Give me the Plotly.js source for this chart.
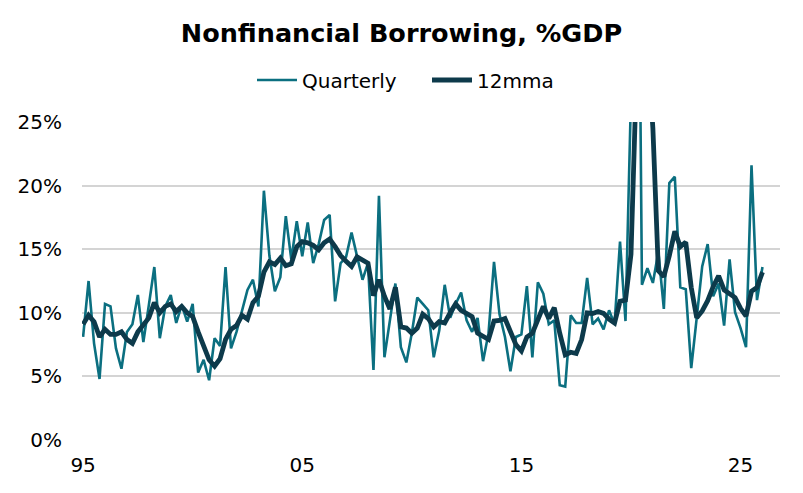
<!DOCTYPE html>
<html>
<head>
<meta charset="utf-8">
<script src="https://cdn.plot.ly/plotly-3.0.1.min.js"></script>
<style>
html,body{margin:0;padding:0;background:#fff;}
#chart{width:803px;height:493px;}
</style>
</head>
<body>
<div id="chart"></div>
<script>
// Quarterly observations starting 1995 Q1
const startYear = 1995;
const quarterly = [
  8.1, 12.5, 7.6, 4.8, 10.7, 10.5, 7.2, 5.6, 8.5, 9.1,
  11.4, 7.7, 10.6, 13.6, 8.0, 10.5, 11.4, 9.2, 10.6, 9.3,
  10.7, 5.3, 6.3, 4.7, 8.0, 7.4, 13.6, 7.2, 8.5, 10.2,
  11.8, 12.6, 10.5, 19.6, 14.5, 11.7, 12.8, 17.6, 14.2, 17.2,
  14.45, 17.1, 13.9, 15.4, 17.3, 17.7, 10.9, 13.9, 14.4, 16.3,
  14.45, 12.6, 13.9, 5.5, 19.2, 6.5, 9.4, 12.3, 7.3, 6.1,
  8.4, 11.2, 10.7, 10.2, 6.5, 8.6, 12.2, 9.6, 10.7, 11.6,
  9.4, 8.5, 9.6, 6.2, 8.4, 14.0, 9.9, 8.1, 5.4, 8.1,
  8.3, 12.1, 6.5, 12.4, 11.5, 9.1, 9.4, 4.3, 4.2, 9.8,
  9.2, 9.2, 12.75, 9.1, 9.55, 8.7, 10.2, 9.1, 15.6, 9.35,
  27.0, 62.0, 12.2, 13.5, 12.35, 14.8, 10.3, 20.2, 20.7, 12.0,
  11.85, 5.65, 9.6, 13.65, 15.4, 11.3, 12.3, 9.0, 14.2, 10.05,
  8.8, 7.3, 21.6, 11.0, 13.6
];
const mma12 = [
  9.1, 9.8, 9.3, 8.1, 8.7, 8.3, 8.3, 8.5, 7.9, 7.6,
  8.5, 9.0, 9.6, 10.8, 10.0, 10.5, 10.7, 10.1, 10.5, 10.0,
  9.7, 8.5, 7.4, 6.3, 5.8, 6.4, 7.9, 8.7, 9.0, 9.8,
  9.5, 10.8, 11.3, 13.2, 14.0, 13.8, 14.3, 13.7, 13.85, 15.2,
  15.6, 15.5, 15.3, 14.95, 15.5, 15.8, 15.2, 14.5, 14.05, 13.65,
  14.4, 14.15, 13.9, 11.35, 12.6, 11.3, 10.3, 12.0, 8.9, 8.8,
  8.4, 8.8, 9.9, 9.55, 8.9, 9.3, 9.2, 10.0, 10.7, 10.2,
  9.9, 9.7, 8.4, 8.2, 7.9, 9.35, 9.4, 9.55, 8.6, 7.5,
  7.0, 8.1, 8.4, 9.5, 10.5, 9.55, 10.4, 8.4, 6.7, 6.9,
  6.8, 7.9, 10.0, 9.95, 10.1, 9.95, 9.5, 9.2, 10.9, 11.0,
  14.6, 28.7, 31.0, 31.0, 24.5, 13.3, 12.85, 14.5, 16.4, 15.2,
  15.55, 12.0, 9.6, 10.15, 10.95, 12.05, 12.9, 11.8, 11.5, 11.2,
  10.35, 9.75, 11.7, 12.0, 13.2
];
const xTickVals = [1995, 2005, 2015, 2025];
const xTickText = ['95', '05', '15', '25'];
const yTickVals = [0, 5, 10, 15, 20, 25];
const yTickText = ['0%', '5%', '10%', '15%', '20%', '25%'];

const dates = quarterly.map((_, i) => startYear + i / 4);

const FONT = 'DejaVu Sans, Verdana, sans-serif';
const traces = [
  {
    x: dates, y: quarterly, type: 'scatter', mode: 'lines', name: 'Quarterly',
    line: {color: '#0B6F80', width: 2.6}
  },
  {
    x: dates, y: mma12, type: 'scatter', mode: 'lines', name: '12mma',
    line: {color: '#0D3A4B', width: 4.8}
  }
];

const layout = {
  width: 803, height: 493,
  paper_bgcolor: '#ffffff', plot_bgcolor: '#ffffff',
  margin: {l: 82, r: 23, t: 122, b: 53},
  font: {family: FONT, size: 20, color: '#000'},
  title: {
    text: '<b>Nonfinancial Borrowing, %GDP</b>',
    font: {family: FONT, size: 25.5, color: '#000'},
    x: 0.5, xanchor: 'center', xref: 'container',
    y: 1 - 33 / 493, yanchor: 'middle', yref: 'container'
  },
  showlegend: true,
  legend: {
    orientation: 'h', x: (252 - 82) / 698, xanchor: 'left',
    y: 1 + (122 - 80) / 318, yanchor: 'middle',
    font: {family: FONT, size: 20, color: '#000'},
    entrywidth: 120, entrywidthmode: 'pixels',
    itemwidth: 40, tracegroupgap: 0, bgcolor: 'rgba(0,0,0,0)'
  },
  xaxis: {
    range: [1994.95, 2026.8],
    tickvals: xTickVals, ticktext: xTickText,
    showgrid: false, zeroline: false, showline: false,
    ticks: '', ticklabelstandoff: 11,
    tickfont: {family: FONT, size: 20, color: '#000'}
  },
  yaxis: {
    range: [0, 25],
    tickvals: yTickVals, ticktext: yTickText,
    showgrid: true, gridcolor: '#d4d4d4', gridwidth: 1.8,
    zeroline: false, showline: false, ticks: '', ticklabelstandoff: 19,
    tickfont: {family: FONT, size: 20, color: '#000'}
  }
};

Plotly.newPlot('chart', traces, layout, {staticPlot: true, displayModeBar: false});
</script>
</body>
</html>
